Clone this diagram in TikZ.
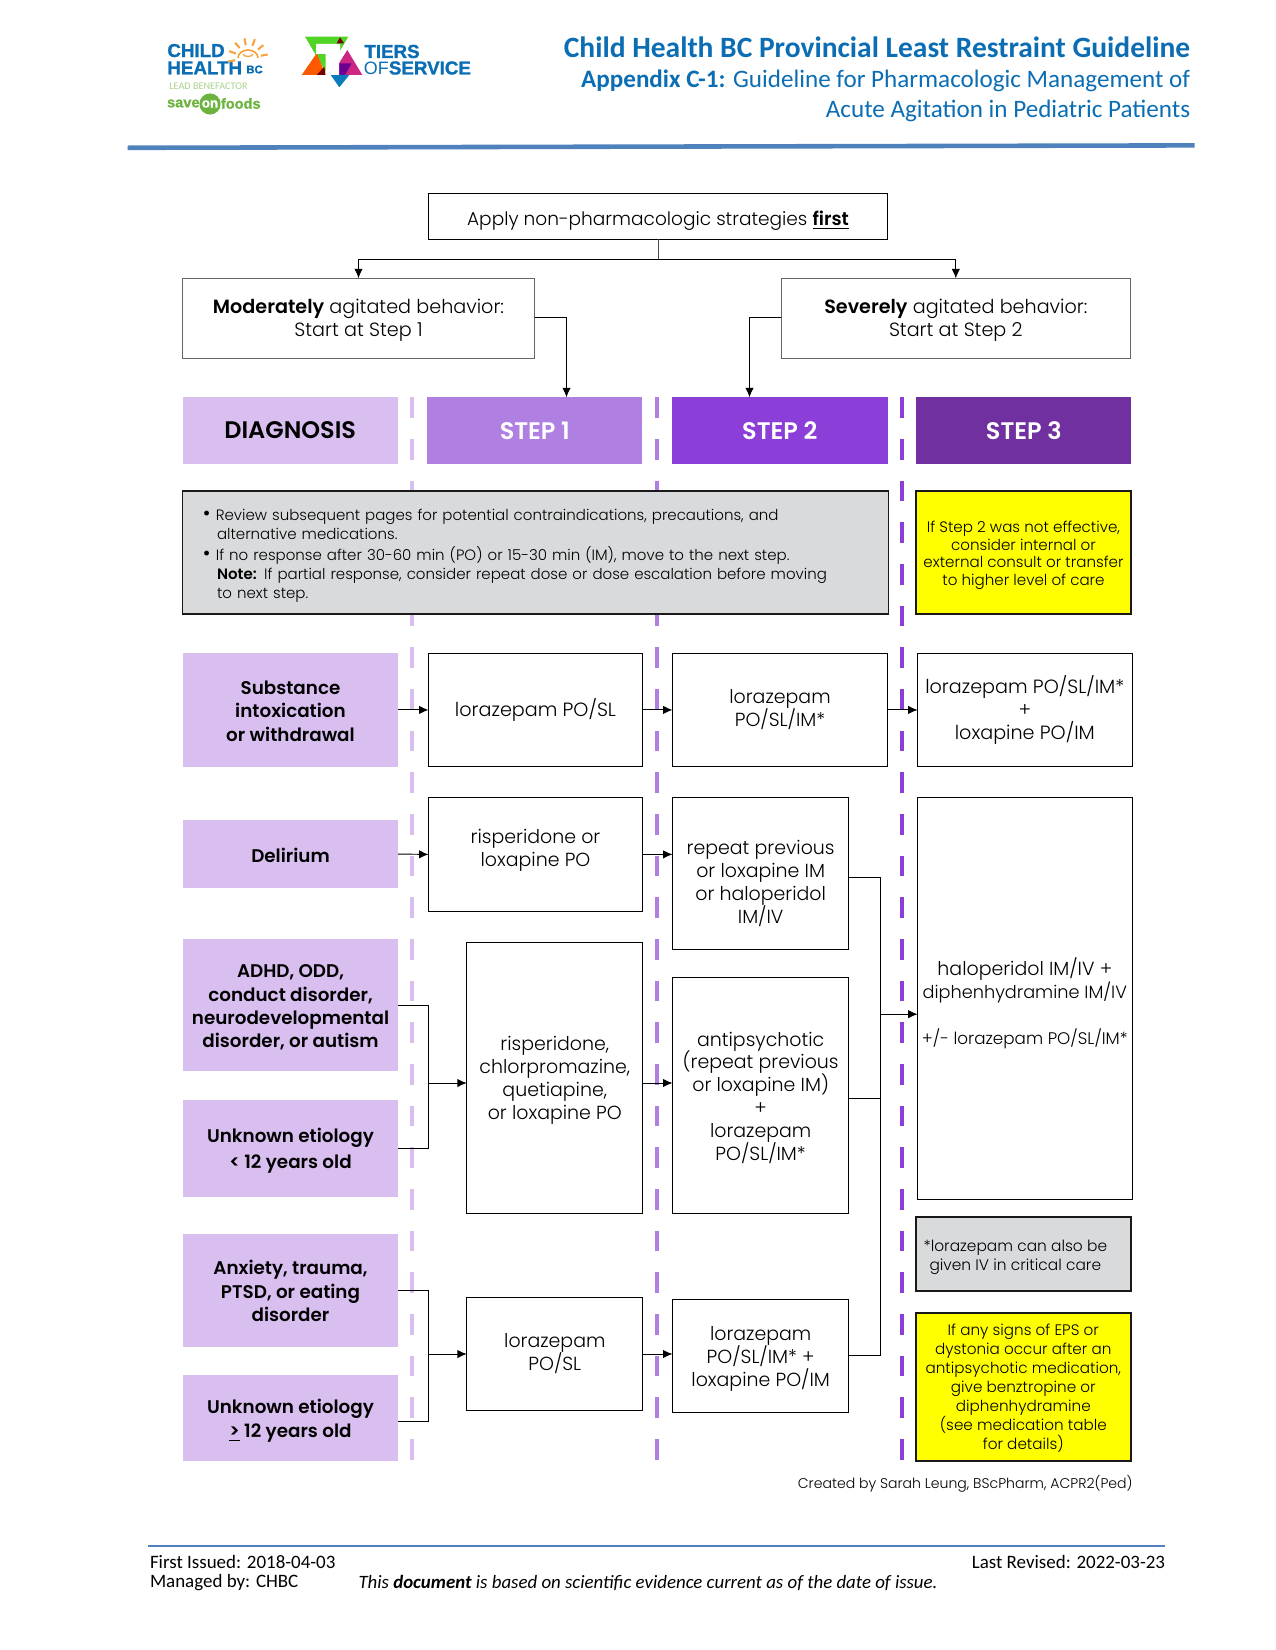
\documentclass[tikz,border=0pt]{standalone}
\usepackage{fontspec}
\setmainfont{Poppins Light}[BoldFont={Poppins SemiBold}]
\newfontfamily\calfont{Carlito}
\newfontfamily\logofont{Liberation Sans}
\newfontfamily\logoheavy{Liberation Sans Bold}[FakeBold=1.2]
\usetikzlibrary{calc,positioning,arrows.meta}
\definecolor{headblue}{HTML}{0B6DB3}
\definecolor{ruleblue}{HTML}{4F81BD}
\definecolor{lilac}{HTML}{D9BFF0}
\definecolor{stepA}{HTML}{B07FE2}
\definecolor{stepB}{HTML}{8C3FD8}
\definecolor{stepC}{HTML}{7030A0}
\definecolor{notegray}{HTML}{D9DADC}
\definecolor{warnyellow}{HTML}{FFFF00}
\definecolor{sunorange}{HTML}{F5A33C}
\definecolor{logogreen}{HTML}{6CB33F}
\definecolor{lightgreen}{HTML}{A9D18E}
\newcommand{\boxfont}[2]{\fontsize{#1}{#2}\selectfont\lineskiplimit=-6pt\relax}

\begin{document}
\begin{tikzpicture}[
  x=.48pt,y=-.48pt,
  px/.style args={#1/#2}{minimum width=#1*.48pt,minimum height=#2*.48pt},
  drop/.style={execute at begin node={\rule{0pt}{#1}}},
  flowbox/.style={rectangle,draw=black,line width=.45pt,inner sep=0pt,outer sep=0pt,anchor=north west,align=center,
    font=\boxfont{9.1}{11}},
  softbox/.style={flowbox,draw=black!60,font=\boxfont{9.2}{11},drop=19.8pt},
  headbox/.style={flowbox,draw=none,font=\fontsize{11.5}{13}\bfseries},
  diagbox/.style={flowbox,draw=none,fill=lilac,font=\boxfont{8.8}{11.2}\bfseries},
  notebox/.style={flowbox,fill=notegray,line width=.9pt,draw=black!90,font=\boxfont{7.2}{9.1}},
  warnbox/.style={flowbox,fill=warnyellow,line width=.9pt,draw=black!90,font=\boxfont{7.3}{9.1}},
  textonly/.style={inner sep=0pt,outer sep=0pt,align=center,font=\boxfont{9.1}{11}},
  arrow/.style={-{Latex[length=4.5pt,width=4pt]},line width=.45pt},
  link/.style={line width=.45pt},
  divider/.style={line width=1.7pt,dash pattern=on 10pt off 10pt},
  footline/.style={inner sep=0pt,outer sep=0pt,font=\calfont\fontsize{9.1}{10}\selectfont},
  ]
  \useasboundingbox (0,0) rectangle (1275,1650);

  % header logos
  \node (child_txt) [anchor=north west,inner sep=0pt,align=left,text=headblue,
    font=\logoheavy\boxfont{9}{8.3}] at (167,43.5) {CHILD\\HEALTH};
  \node (bc_txt) [anchor=west,inner sep=0pt,text=headblue,font=\logoheavy\fontsize{5.4}{6}\selectfont] at (246,69.5) {BC};
  \foreach \a in {-10,20,...,190}
  {
    \draw[sunorange,line width=1pt] ($(248,58)+(\a+180:13)$) -- ($(248,58)+(\a+180:20)$);
  }
  \draw[sunorange,line width=.8pt] (238,58) arc (180:360:10 and 8);
  \draw[sunorange,line width=.6pt] (243,54) arc (180:360:5 and -2.5);
  \node (lead_txt) [anchor=west,inner sep=0pt,text=lightgreen,font=\calfont\fontsize{4.9}{6}\selectfont] at (169,86.5) {LEAD BENEFACTOR};
  \node (save_txt) [anchor=east,inner sep=0pt,text=logogreen,font=\logoheavy\fontsize{7}{8}\selectfont] at (200,103.5) {save};
  \node (on_txt) [circle,fill=logogreen,text=white,inner sep=.6pt,minimum size=9.6pt,font=\logoheavy\fontsize{6.4}{7}\selectfont] at (210,104) {on};
  \node (foods_txt) [anchor=west,inner sep=0pt,text=logogreen,font=\logoheavy\fontsize{7}{8}\selectfont] at (220.5,103.5) {foods};

  \fill[green!60!olive!85!white] (305,36.7) -- (348.3,36.7) -- (326.7,73.3) -- cycle;
  \fill[orange!70!red] (301.7,75) -- (316.7,53.3) -- (325.7,75) -- cycle;
  \fill[red!45!black] (316.7,75) -- (324.3,66.7) -- (325.7,75) -- cycle;
  \fill[magenta!65!violet] (331.7,75) -- (347.3,50) -- (362.3,75) -- cycle;
  \fill[violet!85!blue] (339,63.3) -- (351.7,63.3) -- (345,75) -- (339,75) -- cycle;
  \fill[headblue!90!cyan] (330.7,75) -- (349.3,75) -- (339.3,87.3) -- cycle;
  \fill[white] (316,44) -- (340,44) -- (340,54) -- (339,54) -- (339,75) -- (325.7,75) -- (325.7,54) -- (316,54) -- cycle;
  \fill[red!45!black] (336.7,43.3) -- (340,37.3) -- (344,43.3) -- cycle;
  \node (tiers_txt) [anchor=west,inner sep=0pt,text=headblue,font=\logoheavy\fontsize{9}{10}\selectfont] at (364,51.5) {TIERS};
  \node (of_txt) [anchor=west,inner sep=0pt,text=headblue,font=\logofont\fontsize{8.6}{10}\selectfont] at (363.5,68) {OF};
  \node (service_txt) [anchor=west,inner sep=0pt,text=headblue,font=\logoheavy\fontsize{9}{10}\selectfont] at (388.5,68) {SERVICE};

  % title block
  \node (title_0) [anchor=east,inner sep=0pt,text=headblue,font=\calfont\bfseries\fontsize{14.15}{16}\selectfont] at (1190.5,47) {Child Health BC Provincial Least Restraint Guideline};
  \node (title_1) [anchor=east,inner sep=0pt,text=headblue,font=\calfont\fontsize{12.05}{14}\selectfont] at (1190.5,81) {\textbf{Appendix C-1:} Guideline for Pharmacologic Management of};
  \node (title_2) [anchor=east,inner sep=0pt,text=headblue,font=\calfont\fontsize{12.05}{14}\selectfont] at (1190.5,111) {Acute Agitation in Pediatric Patients};
  \draw[ruleblue,line width=2.2pt] (127.7,147.8) -- (1194.5,145.4);

  % dashed column lines go under the boxes
  \foreach \x/\c in {412/lilac,657/stepA,902/stepB}
  {
    \draw[divider,draw=\c] (\x,397.3) -- (\x,1460.7);
  }

  % top of the chart
  \node (apply_box) [flowbox,px=459/45.6,font=\boxfont{8.9}{11},drop=10.8pt] at (428.5,193.7) {Apply non-pharmacologic strategies \underline{\textbf{first}}};
  \node (mod_box) [softbox,px=352/80] at (182.5,278.3) {\textbf{Moderately} agitated behavior:\\Start at Step 1};
  \node (sev_box) [softbox,px=349.6/80] at (781,278.3) {\textbf{Severely} agitated behavior:\\Start at Step 2};

  \node (diag_head) [headbox,px=215.4/66.4,fill=lilac] at (182.5,397.3) {DIAGNOSIS};
  \node (step1_head) [headbox,px=215/66.4,fill=stepA,text=white] at (427.3,397.3) {STEP 1};
  \node (step2_head) [headbox,px=215.6/66.4,fill=stepB,text=white] at (672,397.3) {STEP 2};
  \node (step3_head) [headbox,px=215/66.4,fill=stepC,text=white] at (916.3,397.3) {STEP 3};

  \coordinate (split) at (656,259);
  \coordinate (step1_in) at (566.5,397.3);
  \coordinate (step2_in) at (749.5,397.3);
  \draw[link,draw=black!70] (apply_box.south) -- (apply_box.south |- split);
  \draw[arrow] (apply_box.south |- split) -| (mod_box.north);
  \draw[arrow] (apply_box.south |- split) -| (sev_box.north);
  \draw[arrow] ([yshift=.6pt]mod_box.east) -| (step1_in);
  \draw[arrow] ([yshift=.6pt]sev_box.west) -| (step2_in);

  % info boxes
  \node (info_box) [notebox,px=706/123.3,align=left,text width=661*.48pt,inner xsep=22.5*.48pt,drop=8.4pt] at (182.5,490.7)
    {\makebox[5.2pt][l]{\hspace*{-1pt}\fontsize{10}{9}\selectfont\textbullet}Review subsequent pages for potential contraindications, precautions, and\\
     \hspace*{5.8pt}alternative medications.\\[1pt]
     \makebox[5.2pt][l]{\hspace*{-1pt}\fontsize{10}{9}\selectfont\textbullet}If no response after 30-60 min (PO) or 15-30 min (IM), move to the next step.\\
     \hspace*{5.8pt}\textbf{Note:} If partial response, consider repeat dose or dose escalation before moving\\
     \hspace*{5.8pt}to next step.};
  \node (effect_box) [warnbox,px=215/123.3,font=\boxfont{7.25}{8.5},drop=33.8pt] at (916,490.7) {If Step 2 was not effective,\\consider internal or\\external consult or transfer\\to higher level of care};

  % substance row
  \node (subs_diag) [diagbox,px=215/113.3,drop=29.9pt] at (183,653.3) {Substance\\intoxication\\or withdrawal};
  \node (subs_s1) [flowbox,px=214/113.3,font=\boxfont{9.2}{11}] at (428.5,653.3) {lorazepam PO/SL};
  \node (subs_s2) [flowbox,px=215/113.3] at (672.5,653.3) {lorazepam\\PO/SL/IM*};
  \node (subs_s3) [flowbox,px=214.4/113.3,font=\boxfont{9.2}{11},drop=29.9pt] at (917.6,653.3) {lorazepam PO/SL/IM*\\+\\loxapine PO/IM};
  \draw[arrow] (subs_diag.east) -- (subs_s1.west);
  \draw[arrow] (subs_s1.east) -- (subs_s2.west);
  \draw[arrow] (subs_s2.east) -- (subs_s3.west);

  % delirium row
  \node (del_diag) [diagbox,px=215/67.7,drop=7.8pt] at (183,820.2) {Delirium};
  \node (del_s1) [flowbox,px=214/113.6] at (428.5,797.6) {};
  \node (del_s1_txt) [textonly] at ($(del_s1.center)+(0,-4)$) {risperidone or\\loxapine PO};
  \node (del_s2) [flowbox,px=176.3/151.5] at (672.5,797.6) {};
  \node (del_s2_txt) [textonly] at ($(del_s2.center)+(0,10)$) {repeat previous\\or loxapine IM\\or haloperidol\\IM/IV};
  \node (halo_s3) [flowbox,px=214.4/401.8] at (917.6,797.6) {};
  \node (halo_s3_txt) [textonly] at ($(halo_s3.center)+(0,5)$) {haloperidol IM/IV +\\{\fontsize{8.5}{11}\selectfont diphenhydramine IM/IV}\\[11pt]{\fontsize{8.05}{11}\selectfont +/- lorazepam PO/SL/IM*}};
  \draw[arrow] (del_diag.east) -- (del_s1.west);
  \draw[arrow] (del_s1.east) -- (del_s1.east -| del_s2.west);

  % adhd and unknown under 12
  \node (adhd_diag) [diagbox,px=215/132,drop=42.1pt] at (183,939.2) {ADHD, ODD,\\conduct disorder,\\neurodevelopmental\\disorder, or autism};
  \node (unk_diag) [diagbox,px=215/96.4,drop=21.2pt] at (183,1100.3) {Unknown etiology\\[1pt]\textless{} 12 years old};
  \node (risp_s1) [flowbox,px=176/271,drop=42.7pt] at (466.8,942.2) {risperidone,\\chlorpromazine,\\quetiapine,\\or loxapine PO};
  \node (anti_s2) [flowbox,px=176.3/235.8,drop=64.2pt] at (672.5,977.4) {antipsychotic\\(repeat previous\\or loxapine IM)\\+\\lorazepam\\PO/SL/IM*};
  \coordinate (join_a) at (428.7,1083);
  \draw[link] (adhd_diag.east) -| (join_a);
  \draw[link] (unk_diag.east) -| (join_a);
  \draw[arrow] (join_a) -- (join_a -| risp_s1.west);
  \draw[arrow] (join_a -| risp_s1.east) -- (join_a -| anti_s2.west);

  % anxiety and unknown over 12
  \node (anx_diag) [diagbox,px=215/113.3,drop=29.9pt] at (183,1233.7) {Anxiety, trauma,\\PTSD, or eating\\disorder};
  \node (unk2_diag) [diagbox,px=215/85.7,drop=20.7pt] at (183,1375) {Unknown etiology\\\underline{\textgreater} 12 years old};
  \node (lor_s1) [flowbox,px=176/113] at (466.8,1297.3) {lorazepam\\PO/SL};
  \node (lor_s2) [flowbox,px=176.3/113.3,drop=31.7pt] at (672.5,1299) {lorazepam\\PO/SL/IM* +\\loxapine PO/IM};
  \coordinate (join_b) at (428.7,1354);
  \draw[link] (anx_diag.east) -| (join_b);
  \draw[link] ([yshift=-1.6pt]unk2_diag.east) -| (join_b);
  \draw[arrow] (join_b) -- (join_b -| lor_s1.west);
  \draw[arrow] (join_b -| lor_s1.east) -- (join_b -| lor_s2.west);

  % collecting line to step 3
  \coordinate (join_c) at (880,1014.2);
  \draw[link] ([yshift=-2pt]del_s2.east) -| (join_c);
  \draw[link] (lor_s2.east) -| (join_c);
  \draw[link] ([yshift=-1.3pt]anti_s2.east) -- ([yshift=-1.3pt]anti_s2.east -| join_c);
  \draw[arrow] (join_c) -- (join_c -| halo_s3.west);

  % notes on the right
  \node (note_box) [flowbox,fill=notegray,line width=.9pt,draw=black!90,px=214.6/74] at (916,1216.7) {};
  \node (note_txt) [textonly,font=\boxfont{7.4}{9.1}] at ($(note_box.center)+(-8,3.5)$) {*lorazepam can also be\\given IV in critical care};
  \node (eps_box) [warnbox,px=214.6/148,drop=61.4pt] at (916,1312.7) {If any signs of EPS or\\dystonia occur after an\\antipsychotic medication,\\give benztropine or\\diphenhydramine\\(see medication table\\for details)};

  \node (credit) [anchor=east,inner sep=0pt,font=\fontsize{6.75}{8}\selectfont] at (1133,1484) {Created by Sarah Leung, BScPharm, ACPR2(Ped)};

  % footer
  \coordinate (foot_l) at (148.4,1545.7);
  \coordinate (foot_r) at (1165,1545.7);
  \draw[ruleblue,line width=.8pt] (foot_l) -- (foot_r);
  \node (first_txt) [footline,anchor=west] at (150,1561.7) {First Issued: 2018-04-03};
  \node (managed_txt) [footline,anchor=west] at (150,1582.7) {Managed by: CHBC};
  \node (basis_txt) [footline,anchor=west,font=\calfont\itshape\fontsize{9.05}{10}\selectfont] at (358.5,1582.7) {This \textbf{document} is based on scientific evidence current as of the date of issue.};
  \node (revised_txt) [footline,anchor=east] at (foot_r |- first_txt) {Last Revised: 2022-03-23};
\end{tikzpicture}
\end{document}
